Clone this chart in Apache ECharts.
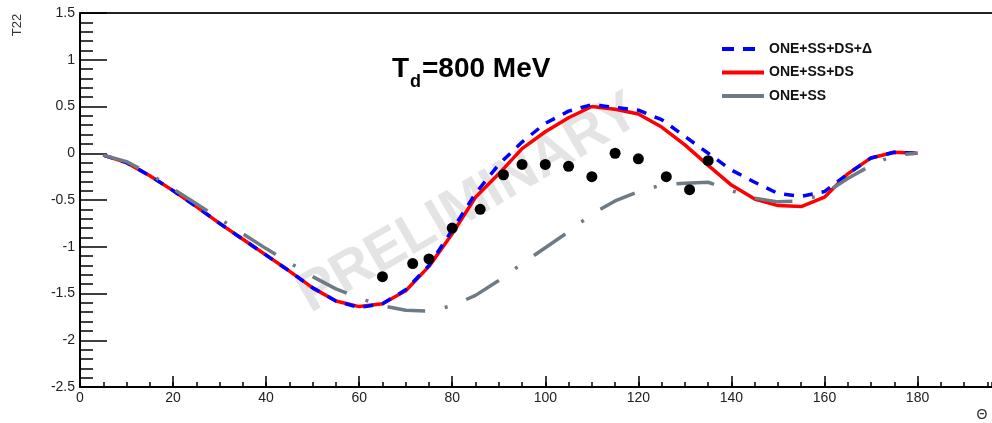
<!DOCTYPE html>
<html>
<head>
<meta charset="utf-8">
<script src="https://cdn.jsdelivr.net/npm/echarts@6.0.0/dist/echarts.min.js"></script>
<style>
html,body{margin:0;padding:0;background:#fff;}
#c{width:992px;height:423px;}
</style>
</head>
<body>
<div id="c"></div>
<script>
// ---- data ----
const thetaGrid = [5,10,15,20,25,30,35,40,45,50,55,60,65,70,75,80,85,90,95,100,105,110,115,120,125,130,135,140,145,150,155,160,165,170,175,180];
const oneSsDsDelta = [-0.02,-0.10,-0.24,-0.40,-0.57,-0.75,-0.92,-1.09,-1.26,-1.44,-1.58,-1.65,-1.61,-1.46,-1.20,-0.82,-0.43,-0.12,0.12,0.32,0.45,0.52,0.49,0.46,0.36,0.18,0.00,-0.18,-0.31,-0.43,-0.46,-0.41,-0.22,-0.05,0.01,0.00];
const oneSsDs      = [-0.02,-0.10,-0.24,-0.40,-0.57,-0.75,-0.92,-1.09,-1.26,-1.44,-1.58,-1.64,-1.61,-1.47,-1.21,-0.86,-0.47,-0.22,0.05,0.23,0.38,0.50,0.47,0.42,0.28,0.09,-0.13,-0.34,-0.49,-0.56,-0.57,-0.47,-0.22,-0.05,0.01,0.00];
const oneSs        = [-0.02,-0.09,-0.22,-0.38,-0.54,-0.70,-0.86,-1.02,-1.17,-1.32,-1.45,-1.55,-1.63,-1.68,-1.69,-1.63,-1.52,-1.36,-1.18,-1.01,-0.84,-0.65,-0.51,-0.41,-0.34,-0.32,-0.31,-0.40,-0.48,-0.52,-0.51,-0.43,-0.27,-0.13,-0.02,0.00];
const expTheta = [65,71.5,75,80,86,91,95,100,105,110,115,120,126,131,135];
const expT22   = [-1.32,-1.18,-1.13,-0.80,-0.60,-0.23,-0.12,-0.12,-0.14,-0.25,0.00,-0.06,-0.25,-0.39,-0.08];
const seriesNames = ['ONE+SS+DS+Δ','ONE+SS+DS','ONE+SS'];
const titleParts = ['T','d','=800 MeV'];
const yAxisTitle = 'T22';
const xAxisTitle = 'Θ';
const watermarkText = 'PRELIMINARY';

const FONT = "'Liberation Sans', Arial, sans-serif";
const pairs = (xs, ys) => xs.map((x, i) => [x, ys[i]]);

const chart = echarts.init(document.getElementById('c'), null, {renderer: 'canvas'});

const X_MAX = 196;
const axisCommon = {
  type: 'value',
  splitLine: {show: false},
  axisLine: {show: true, onZero: false, lineStyle: {color: '#000', width: 2}},
};

chart.setOption({
  animation: false,
  backgroundColor: '#fff',
  grid: {left: 80, top: 13, right: 0, bottom: 36},
  xAxis: [
    Object.assign({}, axisCommon, {
      min: 0, max: X_MAX, interval: 20, z: 3,
      axisTick: {show: true, inside: true, length: 11, lineStyle: {color: '#000', width: 1.5}},
      axisLabel: {
        margin: 4, fontSize: 14, color: '#222', fontFamily: FONT, showMaxLabel: false,
        formatter: v => (v % 20 === 0 && v <= 180) ? String(v) : ''
      }
    }),
    Object.assign({}, axisCommon, {
      position: 'top', min: 0, max: X_MAX,
      axisTick: {show: false}, axisLabel: {show: false},
      axisLine: {show: true, onZero: false, lineStyle: {color: '#222', width: 2}}
    }),
    Object.assign({}, axisCommon, {
      position: 'bottom', min: 0, max: X_MAX, interval: 5, offset: 0,
      axisLine: {show: false, onZero: false},
      axisTick: {show: true, inside: true, length: 5, lineStyle: {color: '#000', width: 1.5}},
      axisLabel: {show: false}
    })
  ],
  yAxis: Object.assign({}, axisCommon, {
    min: -2.5, max: 1.5, interval: 0.5,
    axisTick: {show: true, inside: true, length: 27, lineStyle: {color: '#000', width: 1.5}},
    minorTick: {show: true, splitNumber: 5, length: 13, lineStyle: {color: '#000', width: 1.5}},
    axisLabel: {margin: 5, fontSize: 14, color: '#222', fontFamily: FONT}
  }),
  legend: {
    orient: 'vertical', left: 720, top: 42, padding: 0,
    itemWidth: 42, itemHeight: 14, itemGap: 9.5,
    selectedMode: false,
    itemStyle: {opacity: 0},
    textStyle: {fontSize: 14, fontWeight: 'bold', color: '#111', fontFamily: FONT},
    data: [
      {name: seriesNames[0], lineStyle: {type: [12, 9], width: 4}, itemStyle: {opacity: 0}},
      {name: seriesNames[1], lineStyle: {width: 4}, itemStyle: {opacity: 0}},
      {name: seriesNames[2], lineStyle: {type: 'solid', width: 4}, itemStyle: {opacity: 0}}
    ]
  },
  graphic: [
    {type: 'text', x: 469, y: 204, rotation: 30 * Math.PI / 180, z: 0,
     style: {text: watermarkText, fill: '#e4e4e4', fontSize: 56, fontWeight: 'bold', fontFamily: FONT,
             textAlign: 'center', textVerticalAlign: 'middle'}},
    {type: 'text', x: 392, y: 69, z: 10,
     style: {text: titleParts[0], fill: '#000', fontSize: 28, fontWeight: 'bold', fontFamily: FONT,
             textAlign: 'left', textVerticalAlign: 'middle'}},
    {type: 'text', x: 410, y: 82, z: 10,
     style: {text: titleParts[1], fill: '#000', fontSize: 18, fontWeight: 'bold', fontFamily: FONT,
             textAlign: 'left', textVerticalAlign: 'middle'}},
    {type: 'text', x: 422, y: 69, z: 10,
     style: {text: titleParts[2], fill: '#000', fontSize: 28, fontWeight: 'bold', fontFamily: FONT,
             textAlign: 'left', textVerticalAlign: 'middle'}},
    {type: 'text', x: 17, y: 25, rotation: Math.PI / 2, z: 10,
     style: {text: yAxisTitle, fill: '#333', fontSize: 13, fontFamily: FONT,
             textAlign: 'center', textVerticalAlign: 'middle'}},
    {type: 'text', x: 982, y: 415, z: 10,
     style: {text: xAxisTitle, fill: '#333', fontSize: 14, fontFamily: FONT,
             textAlign: 'center', textVerticalAlign: 'middle'}}
  ],
  series: [
    {name: seriesNames[1], type: 'line', symbol: 'none', z: 3,
     data: pairs(thetaGrid, oneSsDs), color: '#ff0000',
     lineStyle: {color: '#ff0000', width: 3.5}},
    {name: seriesNames[0], type: 'line', symbol: 'none', z: 4,
     data: pairs(thetaGrid, oneSsDsDelta), color: '#0000ff',
     lineStyle: {color: '#0000ff', width: 3.5, type: [10, 9]}},
    {name: seriesNames[2], type: 'line', symbol: 'none', z: 5,
     data: pairs(thetaGrid, oneSs), color: '#6e7b85',
     lineStyle: {color: '#6e7b85', width: 3.5, type: [38, 20, 3, 20]}},
    {name: 'data', type: 'scatter', symbol: 'circle', symbolSize: 11, z: 6,
     data: pairs(expTheta, expT22), itemStyle: {color: '#000', opacity: 1}}
  ]
});
</script>
</body>
</html>
